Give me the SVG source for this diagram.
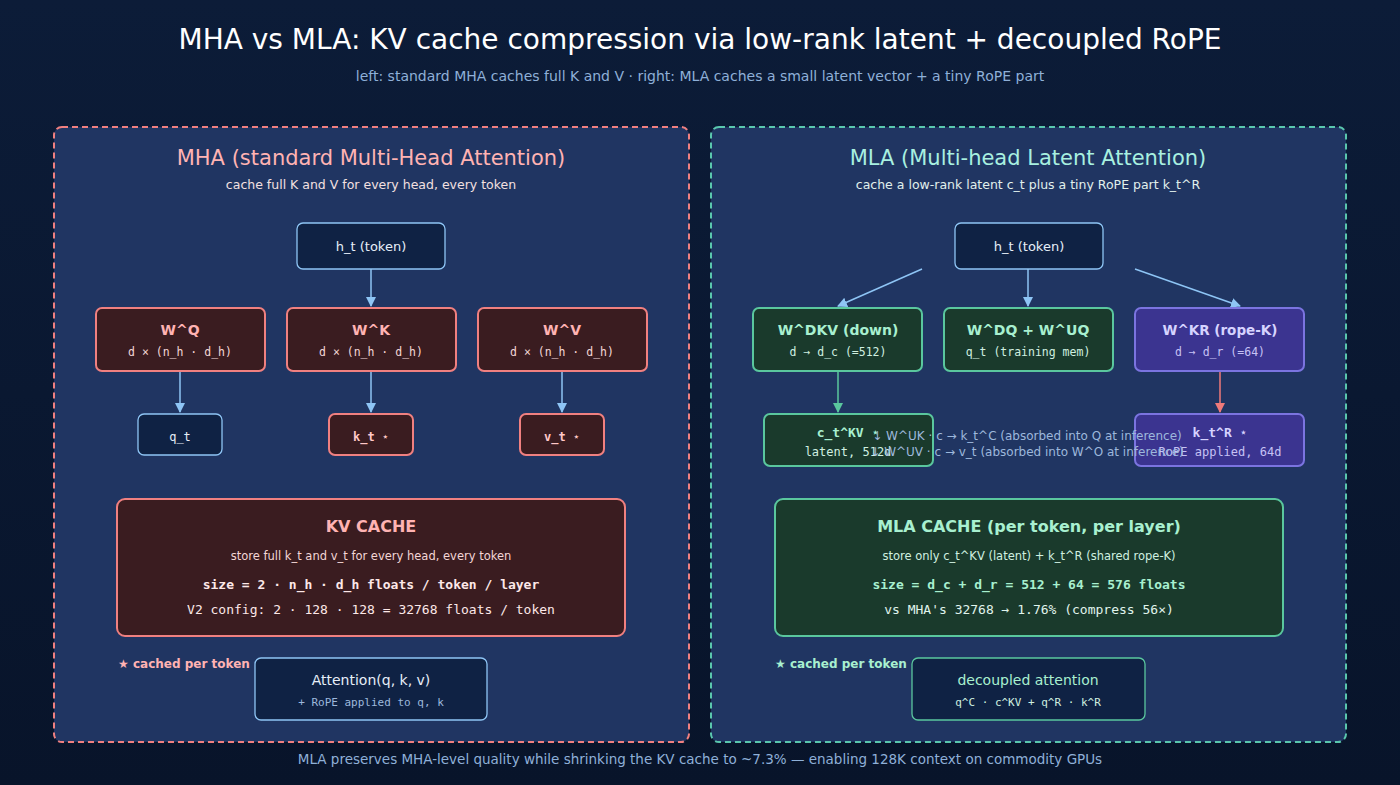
<svg xmlns="http://www.w3.org/2000/svg" width="1400" height="785" viewBox="0 0 1400 785">
<defs>
<linearGradient id="bg" x1="0" y1="0" x2="0" y2="1"><stop offset="0" stop-color="#0c1c38"/><stop offset="1" stop-color="#08142a"/></linearGradient>
<marker id="ab" markerWidth="10" markerHeight="10" refX="9" refY="5" orient="auto" markerUnits="userSpaceOnUse"><path d="M0,0 L10,5 L0,10 z" fill="#8ec5f5"/></marker>
<marker id="ag" markerWidth="10" markerHeight="10" refX="9" refY="5" orient="auto" markerUnits="userSpaceOnUse"><path d="M0,0 L10,5 L0,10 z" fill="#5ac79e"/></marker>
<marker id="ar" markerWidth="10" markerHeight="10" refX="9" refY="5" orient="auto" markerUnits="userSpaceOnUse"><path d="M0,0 L10,5 L0,10 z" fill="#f07a7a"/></marker>
</defs>
<style>
text{font-family:"DejaVu Sans",sans-serif;text-anchor:middle}
.mono{font-family:"DejaVu Sans Mono",monospace}
.red{fill:#3a1c20;stroke:#f08080;stroke-width:2}
.grn{fill:#1a3a2c;stroke:#5ac79e;stroke-width:2}
.pur{fill:#3b3490;stroke:#7b74e0;stroke-width:2}
.blu{fill:#0f2244;stroke:#8ec5f5;stroke-width:1.3}
.tr{fill:#ffb3b3;font-weight:bold;font-size:14px}
.sr{fill:#f3d6d6;font-size:11.5px}
.tg{fill:#a8f0d0;font-weight:bold;font-size:14px}
.sg{fill:#d0f0e0;font-size:11.5px}
.tp{fill:#d6d3ff;font-weight:bold;font-size:13.5px}
.sp{fill:#c6c2f5;font-size:11.5px}
.tb{fill:#e6eef8;font-size:13px}
.c line{stroke-width:1.5}
</style>
<rect width="1400" height="785" fill="url(#bg)"/>
<text x="700" y="49" font-size="28" fill="#ffffff">MHA vs MLA: KV cache compression via low-rank latent + decoupled RoPE</text>
<text x="700" y="81" font-size="14" fill="#8fb0d8">left: standard MHA caches full K and V · right: MLA caches a small latent vector + a tiny RoPE part</text>

<g id="panel-mha">
<rect x="54" y="127" width="635" height="615" rx="8" fill="#203562" stroke="#f08080" stroke-width="2" stroke-dasharray="6,4"/>
<text x="371" y="165" font-size="21" fill="#ffb3b3">MHA (standard Multi-Head Attention)</text>
<text x="371" y="189" font-size="12.5" fill="#f3e0e0">cache full K and V for every head, every token</text>
</g>
<g id="panel-mla">
<rect x="711" y="127" width="635" height="615" rx="8" fill="#203562" stroke="#5ac7ae" stroke-width="2" stroke-dasharray="6,4"/>
<text x="1028" y="165" font-size="21" fill="#a8f0e0">MLA (Multi-head Latent Attention)</text>
<text x="1028" y="189" font-size="12.5" fill="#e0f0ec">cache a low-rank latent c_t plus a tiny RoPE part k_t^R</text>
</g>

<g class="c" id="connectors">
<line x1="371" y1="269" x2="371" y2="306" stroke="#8ec5f5" marker-end="url(#ab)"/>
<line x1="180" y1="371" x2="180" y2="412" stroke="#8ec5f5" marker-end="url(#ab)"/>
<line x1="371" y1="371" x2="371" y2="412" stroke="#8ec5f5" marker-end="url(#ab)"/>
<line x1="562" y1="371" x2="562" y2="412" stroke="#8ec5f5" marker-end="url(#ab)"/>
<line x1="922" y1="269" x2="838" y2="306" stroke="#8ec5f5" marker-end="url(#ab)"/>
<line x1="1028" y1="269" x2="1028" y2="306" stroke="#8ec5f5" marker-end="url(#ab)"/>
<line x1="1135" y1="269" x2="1240" y2="306" stroke="#8ec5f5" marker-end="url(#ab)"/>
<line x1="838" y1="371" x2="838" y2="412" stroke="#5ac79e" marker-end="url(#ag)"/>
<line x1="1220" y1="371" x2="1220" y2="412" stroke="#f07a7a" marker-end="url(#ar)"/>
</g>

<g id="mha-ht"><rect x="297" y="223" width="148" height="46" rx="6" class="blu"/><text x="371" y="251" class="tb">h_t (token)</text></g>
<g id="mha-wq"><rect x="96" y="308" width="169" height="63" rx="6" class="red"/><text x="180" y="335" class="tr">W^Q</text><text x="180" y="356" class="sr mono">d × (n_h · d_h)</text></g>
<g id="mha-wk"><rect x="287" y="308" width="169" height="63" rx="6" class="red"/><text x="371" y="335" class="tr">W^K</text><text x="371" y="356" class="sr mono">d × (n_h · d_h)</text></g>
<g id="mha-wv"><rect x="478" y="308" width="169" height="63" rx="6" class="red"/><text x="562" y="335" class="tr">W^V</text><text x="562" y="356" class="sr mono">d × (n_h · d_h)</text></g>
<g id="mha-qt"><rect x="138" y="414" width="84" height="41" rx="6" class="blu"/><text x="180" y="441" class="mono" font-size="12" fill="#e6eef8">q_t</text></g>
<g id="mha-kt"><rect x="329" y="414" width="84" height="41" rx="6" class="red"/><text x="371" y="441" class="mono" font-size="12" font-weight="bold" fill="#ffc8c8">k_t ⋆</text></g>
<g id="mha-vt"><rect x="520" y="414" width="84" height="41" rx="6" class="red"/><text x="562" y="441" class="mono" font-size="12" font-weight="bold" fill="#ffc8c8">v_t ⋆</text></g>
<g id="mha-cache"><rect x="117" y="499" width="508" height="137" rx="8" class="red"/>
<text x="371" y="532" font-size="16" font-weight="bold" fill="#ffb3b3">KV CACHE</text>
<text x="371" y="560" class="sr" font-size="13">store full k_t and v_t for every head, every token</text>
<text x="371" y="589" class="mono" font-size="13" font-weight="bold" fill="#fde8e8">size = 2 · n_h · d_h floats / token / layer</text>
<text x="371" y="614" class="mono" font-size="13" fill="#fde8e8">V2 config: 2 · 128 · 128 = 32768 floats / token</text></g>
<text x="118" y="668" font-size="12" font-weight="bold" fill="#ffb3b3" style="text-anchor:start">★ cached per token</text>
<g id="mha-attn"><rect x="255" y="658" width="232" height="62" rx="6" class="blu"/><text x="371" y="685" font-size="14" fill="#e6eef8">Attention(q, k, v)</text><text x="371" y="706" class="mono" font-size="11" fill="#9db8dc">+ RoPE applied to q, k</text></g>

<g id="mla-ht"><rect x="955" y="223" width="148" height="46" rx="6" class="blu"/><text x="1029" y="251" class="tb">h_t (token)</text></g>
<g id="mla-wdkv"><rect x="753" y="308" width="169" height="63" rx="6" class="grn"/><text x="838" y="335" class="tg">W^DKV (down)</text><text x="838" y="356" class="sg mono">d → d_c (=512)</text></g>
<g id="mla-wdq"><rect x="944" y="308" width="169" height="63" rx="6" class="grn"/><text x="1028" y="335" class="tg">W^DQ + W^UQ</text><text x="1028" y="356" class="sg mono">q_t (training mem)</text></g>
<g id="mla-wkr"><rect x="1135" y="308" width="169" height="63" rx="6" class="pur"/><text x="1220" y="335" class="tp">W^KR (rope-K)</text><text x="1220" y="356" class="sp mono">d → d_r (=64)</text></g>
<g id="mla-ckv"><rect x="764" y="414" width="169" height="52" rx="6" class="grn"/><text x="848" y="437" class="mono" font-size="13" font-weight="bold" fill="#a8f0d0">c_t^KV ⋆</text><text x="848" y="456" class="mono" font-size="12" fill="#d0f0e0">latent, 512d</text></g>
<g id="mla-ktr"><rect x="1135" y="414" width="169" height="52" rx="6" class="pur"/><text x="1220" y="437" class="mono" font-size="13" font-weight="bold" fill="#d6d3ff">k_t^R ⋆</text><text x="1220" y="456" class="mono" font-size="12" fill="#c6c2f5">RoPE applied, 64d</text></g>
<text x="1027" y="440" font-size="12" fill="#9db8dc">↓ W^UK · c → k_t^C (absorbed into Q at inference)</text>
<text x="1027" y="456" font-size="12" fill="#9db8dc">↓ W^UV · c → v_t (absorbed into W^O at inference)</text>
<g id="mla-cache"><rect x="775" y="499" width="508" height="137" rx="8" class="grn"/>
<text x="1029" y="532" font-size="16" font-weight="bold" fill="#a8f0d0">MLA CACHE (per token, per layer)</text>
<text x="1029" y="560" class="sg" font-size="13">store only c_t^KV (latent) + k_t^R (shared rope-K)</text>
<text x="1029" y="589" class="mono" font-size="13" font-weight="bold" fill="#a8f0d0">size = d_c + d_r = 512 + 64 = 576 floats</text>
<text x="1029" y="614" class="mono" font-size="13" fill="#e0f4ec">vs MHA's 32768 → 1.76% (compress 56×)</text></g>
<text x="775" y="668" font-size="12" font-weight="bold" fill="#a8f0d0" style="text-anchor:start">★ cached per token</text>
<g id="mla-attn"><rect x="912" y="658" width="233" height="62" rx="6" fill="#0f2244" stroke="#5ac79e" stroke-width="1.3"/><text x="1028" y="685" font-size="14" fill="#a8f0d0">decoupled attention</text><text x="1028" y="706" class="mono" font-size="11" fill="#d0f0e0">q^C · c^KV + q^R · k^R</text></g>

<text x="700" y="764" font-size="13.5" fill="#8fb0d8">MLA preserves MHA-level quality while shrinking the KV cache to ~7.3% — enabling 128K context on commodity GPUs</text>
</svg>
